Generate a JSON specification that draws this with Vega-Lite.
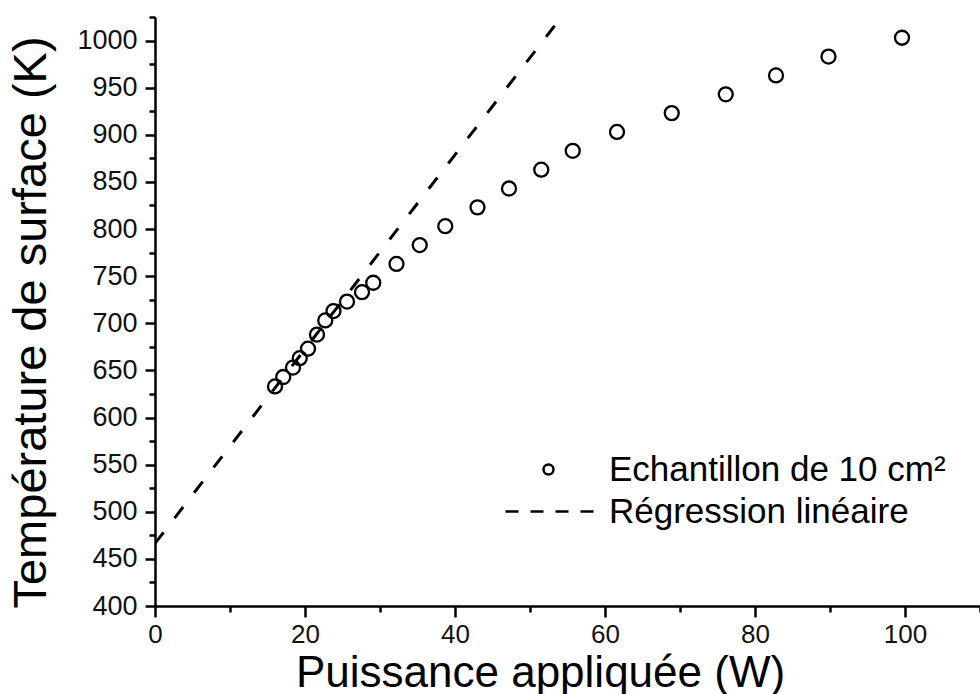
{
  "$schema": "https://vega.github.io/schema/vega-lite/v6.json",
  "width": 825,
  "height": 589,
  "autosize": {"type": "none"},
  "padding": {"left": 155, "top": 17, "right": 0, "bottom": 88},
  "background": "white",
  "config": {"view": {"stroke": null}, "font": "Liberation Sans"},
  "datasets": {
    "points": [
      {"P": 16.0, "T": 633, "series": "Echantillon de 10 cm²"},
      {"P": 17.1, "T": 643, "series": "Echantillon de 10 cm²"},
      {"P": 18.4, "T": 653, "series": "Echantillon de 10 cm²"},
      {"P": 19.3, "T": 663, "series": "Echantillon de 10 cm²"},
      {"P": 20.4, "T": 673, "series": "Echantillon de 10 cm²"},
      {"P": 21.6, "T": 688, "series": "Echantillon de 10 cm²"},
      {"P": 22.7, "T": 703, "series": "Echantillon de 10 cm²"},
      {"P": 23.8, "T": 713, "series": "Echantillon de 10 cm²"},
      {"P": 25.6, "T": 723, "series": "Echantillon de 10 cm²"},
      {"P": 27.6, "T": 733, "series": "Echantillon de 10 cm²"},
      {"P": 29.1, "T": 743, "series": "Echantillon de 10 cm²"},
      {"P": 32.2, "T": 763, "series": "Echantillon de 10 cm²"},
      {"P": 35.3, "T": 783, "series": "Echantillon de 10 cm²"},
      {"P": 38.7, "T": 803, "series": "Echantillon de 10 cm²"},
      {"P": 43.0, "T": 823, "series": "Echantillon de 10 cm²"},
      {"P": 47.2, "T": 843, "series": "Echantillon de 10 cm²"},
      {"P": 51.5, "T": 863, "series": "Echantillon de 10 cm²"},
      {"P": 55.7, "T": 883, "series": "Echantillon de 10 cm²"},
      {"P": 61.6, "T": 903, "series": "Echantillon de 10 cm²"},
      {"P": 68.9, "T": 923, "series": "Echantillon de 10 cm²"},
      {"P": 76.1, "T": 943, "series": "Echantillon de 10 cm²"},
      {"P": 82.8, "T": 963, "series": "Echantillon de 10 cm²"},
      {"P": 89.8, "T": 983, "series": "Echantillon de 10 cm²"},
      {"P": 99.6, "T": 1003, "series": "Echantillon de 10 cm²"}
    ],
    "fit": [
      {"P": 0, "T": 466.4},
      {"P": 54.2, "T": 1025.2}
    ]
  },
  "layer": [
    {
      "data": {"name": "fit"},
      "mark": {"type": "line", "stroke": "black", "strokeWidth": 3, "strokeDash": [14, 18], "clip": true},
      "encoding": {
        "x": {
          "field": "P", "type": "quantitative",
          "scale": {"domain": [0, 110], "nice": false, "zero": false},
          "axis": {"orient": "bottom", "values": [10, 30, 50, 70, 90, 110], "labels": false, "domain": false, "grid": false, "tickSize": 6, "tickWidth": 2.5, "tickColor": "black", "title": null}
        },
        "y": {
          "field": "T", "type": "quantitative",
          "scale": {"domain": [400, 1025], "nice": false, "zero": false},
          "axis": {"orient": "left", "values": [425, 475, 525, 575, 625, 675, 725, 775, 825, 875, 925, 975, 1025], "labels": false, "domain": false, "grid": false, "tickSize": 6, "tickWidth": 2.5, "tickColor": "black", "title": null}
        }
      }
    },
    {
      "data": {"name": "points"},
      "mark": {"type": "point", "filled": false, "stroke": "black", "strokeWidth": 2.3, "size": 196, "opacity": 1},
      "encoding": {
        "x": {
          "field": "P", "type": "quantitative",
          "scale": {"domain": [0, 110], "nice": false, "zero": false},
          "axis": {"orient": "bottom", "values": [0, 20, 40, 60, 80, 100], "format": "d", "grid": false, "domainColor": "black", "domainWidth": 2.5, "tickColor": "black", "tickWidth": 2.5, "tickSize": 11, "labelFontSize": 26, "labelColor": "#111", "labelPadding": 4, "labelFlush": false, "labelOverlap": false, "title": "Puissance appliquée (W)", "titleFontSize": 44, "titleFontWeight": "normal", "titleColor": "black", "titleX": 385, "titleY": 80, "titleBaseline": "alphabetic", "titleAlign": "center"}
        },
        "y": {
          "field": "T", "type": "quantitative",
          "scale": {"domain": [400, 1025], "nice": false, "zero": false},
          "axis": {"orient": "left", "values": [400, 450, 500, 550, 600, 650, 700, 750, 800, 850, 900, 950, 1000], "format": "d", "grid": false, "domainColor": "black", "domainWidth": 2.5, "tickColor": "black", "tickWidth": 2.5, "tickSize": 10, "labelFontSize": 27, "labelColor": "#111", "labelPadding": 8, "labelFlush": false, "labelOverlap": false, "title": "Température de surface (K)", "titleFontSize": 47, "titleFontWeight": "normal", "titleColor": "black", "titleX": -110, "titleY": 305, "titleBaseline": "alphabetic", "titleAlign": "center"}
        },
        "shape": {
          "field": "series", "type": "nominal",
          "scale": {"domain": ["Echantillon de 10 cm²", "Régression linéaire"], "range": ["circle", "M-8.6,0H-6M-3.6,0H-1M1.4,0H4M6.4,0H9"]},
          "legend": {"orient": "none", "legendX": 376, "legendY": 435, "title": null, "labelFontSize": 35, "labelColor": "black", "labelFont": "Liberation Sans", "labelLimit": 0, "symbolSize": 100, "symbolStrokeWidth": 2.5, "symbolStrokeColor": "black", "symbolFillColor": "transparent", "labelOffset": 43, "rowPadding": 6}
        }
      }
    }
  ],
  "resolve": {"axis": {"x": "independent", "y": "independent"}}
}
